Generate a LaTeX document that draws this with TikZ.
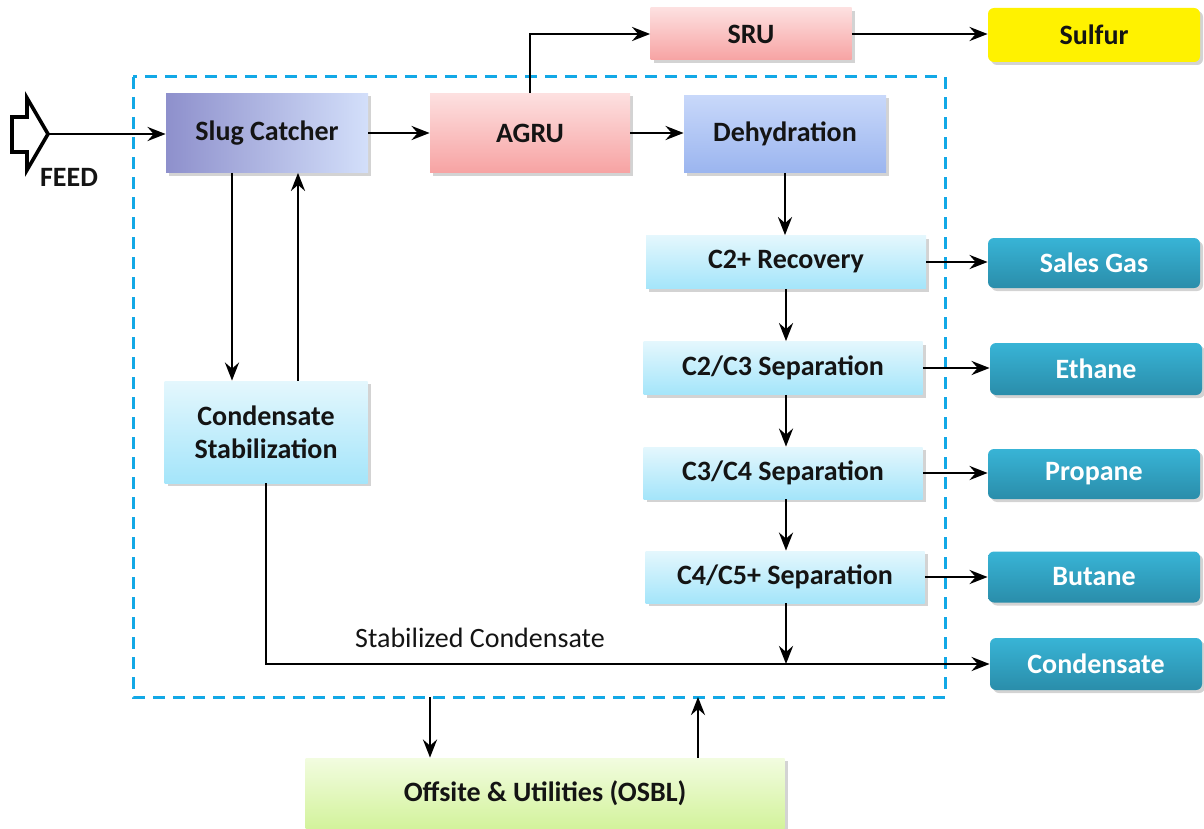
\documentclass[tikz,border=0pt]{standalone}
\usepackage{fontspec}
\setmainfont{Carlito}
\usetikzlibrary{arrows.meta,shadows}
\definecolor{dashc}{HTML}{12A8E6}
\definecolor{prodtop}{HTML}{38B4D6}
\definecolor{prodbot}{HTML}{2A8DAA}
\definecolor{cyantop}{HTML}{E4F7FD}
\definecolor{cyanbot}{HTML}{A4E5FA}
\definecolor{pinktop}{HTML}{FDE0E0}
\definecolor{pinkbot}{HTML}{F7A3A3}
\definecolor{dehtop}{HTML}{C8D8FA}
\definecolor{dehbot}{HTML}{9BB5EF}
\definecolor{sluga}{HTML}{8E90CC}
\definecolor{slugb}{HTML}{D3DFFA}
\definecolor{greentop}{HTML}{F2FCE0}
\definecolor{greenbot}{HTML}{D3F39C}
\definecolor{txt}{HTML}{141414}
\tikzset{
  base/.style={inner sep=0pt, font=\fontsize{14}{16.5}\selectfont\bfseries, text=txt, align=center,
     drop shadow={opacity=0.35, shadow xshift=1.5pt, shadow yshift=-1.5pt}},
  cyanbox/.style={base, top color=cyantop, bottom color=cyanbot},
  pinkbox/.style={base, top color=pinktop, bottom color=pinkbot},
  prodbox/.style={base, rounded corners=3pt, top color=prodtop, bottom color=prodbot, text=white},
  arr/.style={-{Stealth[length=9pt,width=7pt,inset=3pt]}, line width=1.4pt, black},
}
\begin{document}
\begin{tikzpicture}[x=0.5pt,y=-0.5pt]
\useasboundingbox (0,0) rectangle (1204,829);
% dashed battery limit
\draw[dashc, line width=1.5pt, dash pattern=on 6pt off 4pt] (133,77) rectangle (945,697);
% main units
\node[base, left color=sluga, right color=slugb, minimum width=101pt, minimum height=39.5pt] (slug) at (267,133) {Slug Catcher};
\node[pinkbox, minimum width=100pt, minimum height=39.5pt] (agru) at (530,133) {AGRU};
\node[base, top color=dehtop, bottom color=dehbot, minimum width=101pt, minimum height=38.5pt] (deh) at (785,134) {Dehydration};
\node[pinkbox, minimum width=100.5pt, minimum height=26pt] (sru) at (751,34) {SRU};
\node[base, rounded corners=3pt, fill=yellow, minimum width=106pt, minimum height=27pt] (sulfur) at (1094,35) {Sulfur};
\node[cyanbox, minimum width=140pt, minimum height=26.5pt] (c2r) at (786,262) {C2+ Recovery};
\node[cyanbox, minimum width=139.5pt, minimum height=26.5pt] (c23) at (783,368) {C2/C3 Separation};
\node[cyanbox, minimum width=139.5pt, minimum height=26pt] (c34) at (783,473) {C3/C4 Separation};
\node[cyanbox, minimum width=139.5pt, minimum height=26pt] (c45) at (785,577) {C4/C5+ Separation};
\node[cyanbox, minimum width=101.5pt, minimum height=51pt] (stab) at (266,432) {Condensate\\Stabilization};
\node[base, top color=greentop, bottom color=greenbot, minimum width=239.5pt, minimum height=35pt] (osbl) at (545,793) {Offsite \& Utilities (OSBL)};
% products
\node[prodbox, minimum width=106pt, minimum height=25pt] (sales) at (1094,263) {Sales Gas};
\node[prodbox, minimum width=106pt, minimum height=26pt] (ethane) at (1096,369) {Ethane};
\node[prodbox, minimum width=106pt, minimum height=25pt] (propane) at (1094,474) {Propane};
\node[prodbox, minimum width=106pt, minimum height=25.5pt] (butane) at (1094,577) {Butane};
\node[prodbox, minimum width=106pt, minimum height=26pt] (cond) at (1096,664) {Condensate};
% feed
\draw[line width=1.8pt, line join=miter] (12,117) -- (27,117) -- (27,98) -- (48,134) -- (27,170) -- (27,152) -- (12,152) -- cycle;
\coordinate (feedtip) at (48,134);
\node[font=\fontsize{14}{16.5}\selectfont\bfseries, text=txt] (feedlbl) at (69,177) {FEED};
% connectors
\draw[arr] (feedtip) -- (feedtip -| slug.west);
\draw[arr] (slug.east) -- (agru.west);
\draw[arr] (agru.east) -- (agru.east -| deh.west);
\draw[arr] (agru.north) |- (sru.west);
\draw[arr] (sru.east) -- (sru.east -| sulfur.west);
\draw[arr] (deh.south) -- (deh.south |- c2r.north);
\draw[arr] (c2r.south) -- (c2r.south |- c23.north);
\draw[arr] (c2r.south |- c23.south) -- (c2r.south |- c34.north);
\draw[arr] (c2r.south |- c34.south) -- (c2r.south |- c45.north);
\coordinate (s1) at (232,0);
\coordinate (s2) at (298,0);
\draw[arr] (slug.south -| s1) -- (stab.north -| s1);
\draw[arr] (stab.north -| s2) -- (slug.south -| s2);
\draw[arr] (stab.south) |- (cond.west);
\draw[arr] (c2r.south |- c45.south) -- (c2r.south |- cond.west);
\node[font=\fontsize{14}{16.5}\selectfont, text=txt] (stablbl) at (480,638) {Stabilized Condensate};
\draw[arr] (c2r.east) -- (c2r.east -| sales.west);
\draw[arr] (c23.east) -- (c23.east -| ethane.west);
\draw[arr] (c34.east) -- (c34.east -| propane.west);
\draw[arr] (c45.east) -- (c45.east -| butane.west);
\coordinate (u1) at (430,697);
\coordinate (u2) at (698,697);
\draw[arr] (u1) -- (u1 |- osbl.north);
\draw[arr] (u2 |- osbl.north) -- (u2);
\end{tikzpicture}
\end{document}
